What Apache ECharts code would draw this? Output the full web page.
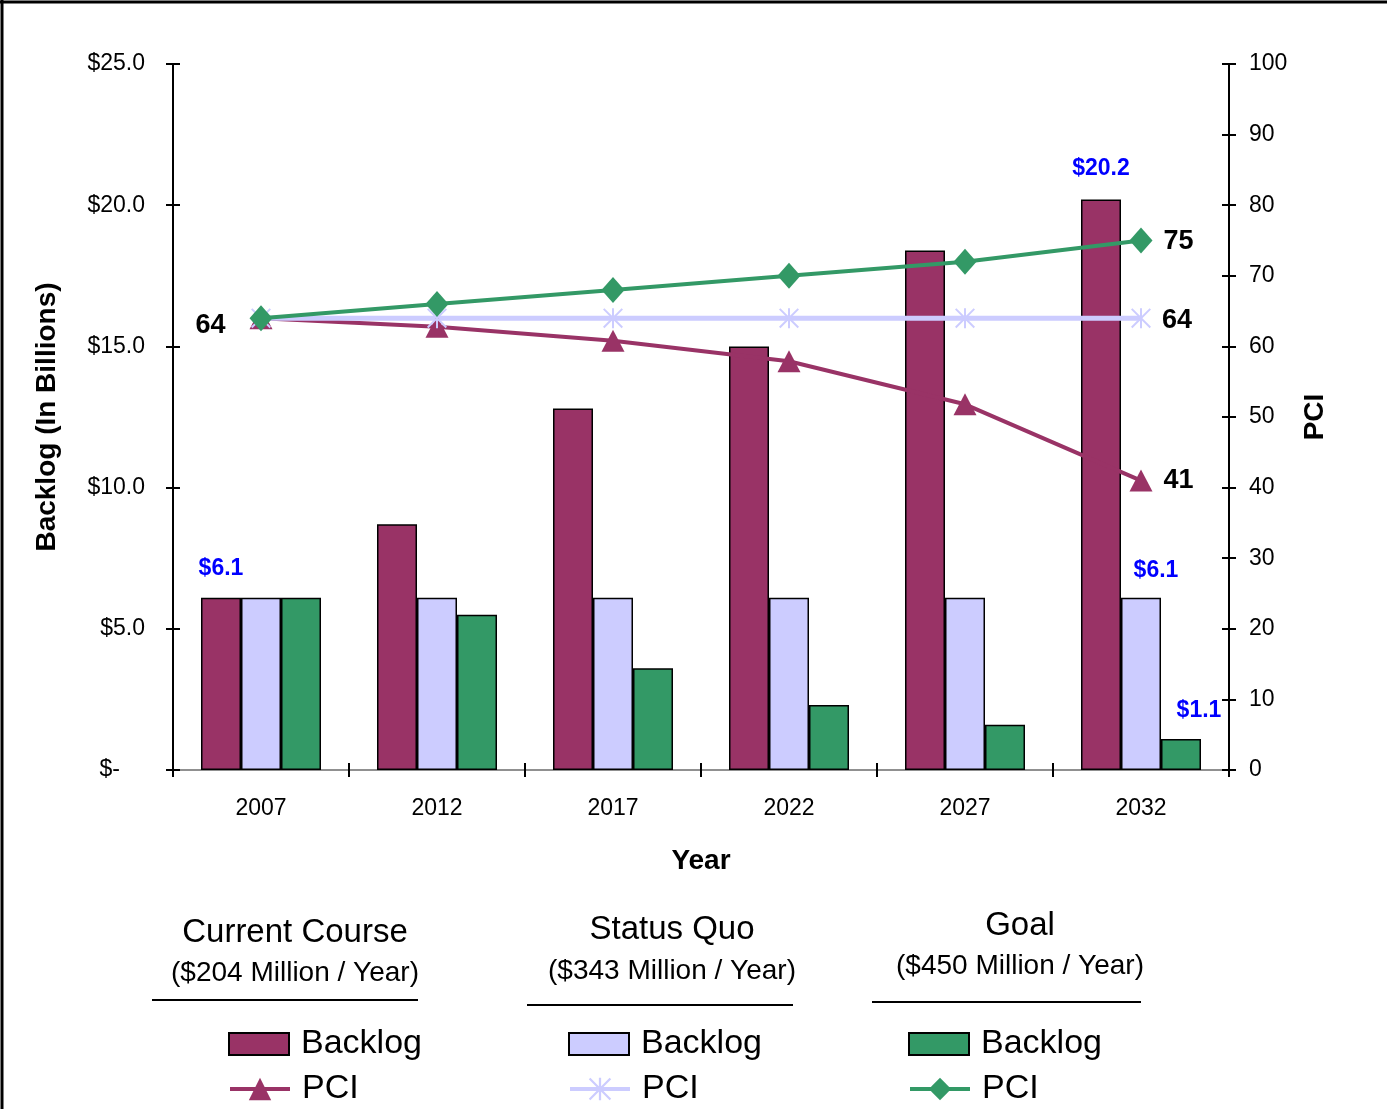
<!DOCTYPE html>
<html>
<head>
<meta charset="utf-8">
<script src="https://cdn.jsdelivr.net/npm/echarts@6/dist/echarts.min.js"></script>
<style>
html,body{margin:0;padding:0;background:#fff;}
#chart{width:1387px;height:1109px;}
</style>
</head>
<body>
<div id="chart"></div>
<script>
// ---- data ----
const years = ['2007', '2012', '2017', '2022', '2027', '2032'];
const backlogCurrent = [6.1, 8.7, 12.8, 15.0, 18.4, 20.2];
const backlogStatusQuo = [6.1, 6.1, 6.1, 6.1, 6.1, 6.1];
const backlogGoal = [6.1, 5.5, 3.6, 2.3, 1.6, 1.1];
const pciCurrent = [64, 62.8, 60.8, 57.9, 51.8, 41];
const pciStatusQuo = [64, 64, 64, 64, 64, 64];
const pciGoal = [64, 66, 68, 70, 72, 75];
const groupTitles = ['Current Course', 'Status Quo', 'Goal'];
const groupSubtitles = ['($204 Million / Year)', '($343 Million / Year)', '($450 Million / Year)'];

const FONT = '"Liberation Sans", Arial, sans-serif';
const MAROON = '#993366', LAVENDER = '#CCCCFF', GREEN = '#339966';
const ASTERISK = 'path://M9,0 L11,0 L11,20 L9,20 Z M1.4,0 L20,18.6 L18.6,20 L0,1.4 Z M18.6,0 L20,1.4 L1.4,20 L0,18.6 Z';

const chart = echarts.init(document.getElementById('chart'), null, {renderer: 'canvas'});

function blueLabelItem(v, dist, dx) {
  return {
    value: v,
    label: {show: true, position: 'top', distance: dist, offset: [dx, 0],
      formatter: '$' + v.toFixed(1), color: '#0000FF', fontWeight: 'bold', fontSize: 23, fontFamily: FONT}
  };
}
function pciLabelItem(v, pos, dist, dy) {
  return {
    value: v,
    label: {show: true, position: pos, distance: dist, offset: [0, dy],
      formatter: String(Math.round(v)), color: '#000', fontWeight: 'bold', fontSize: 27, fontFamily: FONT}
  };
}

const ccBars = backlogCurrent.slice();
ccBars[0] = blueLabelItem(backlogCurrent[0], 18, 0);
ccBars[5] = blueLabelItem(backlogCurrent[5], 19, 0);
const sqBars = backlogStatusQuo.slice();
sqBars[5] = blueLabelItem(backlogStatusQuo[5], 16, 15);
const glBars = backlogGoal.slice();
glBars[5] = blueLabelItem(backlogGoal[5], 17, 18);

const ccPci = pciCurrent.slice();
ccPci[0] = pciLabelItem(pciCurrent[0], 'left', 24, 7);
ccPci[5] = pciLabelItem(pciCurrent[5], 'right', 11, 0);
const sqPci = pciStatusQuo.slice();
sqPci[5] = pciLabelItem(pciStatusQuo[5], 'right', 11, 2);
const glPci = pciGoal.slice();
glPci[5] = pciLabelItem(pciGoal[5], 'right', 11, 1);

const barCommon = {type: 'bar', barWidth: 40, barGap: '0%', xAxisIndex: 0, yAxisIndex: 0,
  emphasis: {disabled: true}, z: 2};
const lineCommon = {type: 'line', xAxisIndex: 0, yAxisIndex: 1, emphasis: {disabled: true}, z: 3};

const legendText = {fontSize: 34, fontFamily: FONT, color: '#000', lineHeight: 40, padding: [0, 0, 0, 7]};
function mkLegend(name, left, top, h, icon) {
  const item = icon ? {name: name, icon: icon} : {name: name};
  return {orient: 'vertical', left: left, top: top, itemWidth: 60, itemHeight: h, selectedMode: false,
    padding: 0, data: [item], formatter: n => n.split('|')[0], textStyle: legendText,
    lineStyle: {width: 4}};
}
const legendX = [228, 568, 908];

const graphics = [
  {type: 'line', shape: {x1: 0, y1: 2, x2: 1387, y2: 2}, style: {stroke: '#000', lineWidth: 3}},
  {type: 'line', shape: {x1: 2, y1: 0, x2: 2, y2: 1109}, style: {stroke: '#000', lineWidth: 3}}
];
const titleCx = [295, 672, 1020];
const titleY = [933, 930, 926];
const subY = [973, 971, 966];
const ulines = [[152, 418, 1000], [527, 793, 1005], [872, 1141, 1002]];
for (let i = 0; i < 3; i++) {
  graphics.push({type: 'text', x: titleCx[i], y: titleY[i], style: {text: groupTitles[i], fontSize: 33, fontFamily: FONT, fill: '#000', align: 'center', verticalAlign: 'middle'}});
  graphics.push({type: 'text', x: titleCx[i], y: subY[i], style: {text: groupSubtitles[i], fontSize: 28, fontFamily: FONT, fill: '#000', align: 'center', verticalAlign: 'middle'}});
  graphics.push({type: 'line', shape: {x1: ulines[i][0], y1: ulines[i][2], x2: ulines[i][1], y2: ulines[i][2]}, style: {stroke: '#000', lineWidth: 2}});
}

const option = {
  backgroundColor: '#fff',
  animation: false,
  grid: {left: 173, right: 158, top: 64, bottom: 339},
  legend: [
    mkLegend('Backlog|cc', legendX[0], 1024, 22, 'rect'),
    mkLegend('PCI|cc', legendX[0], 1069, 28),
    mkLegend('Backlog|sq', legendX[1], 1024, 22, 'rect'),
    mkLegend('PCI|sq', legendX[1], 1069, 28),
    mkLegend('Backlog|gl', legendX[2], 1024, 22, 'rect'),
    mkLegend('PCI|gl', legendX[2], 1069, 28)
  ],
  xAxis: [
    {type: 'category', data: years, position: 'bottom',
      name: 'Year', nameLocation: 'middle', nameGap: 77,
      nameTextStyle: {fontSize: 28, fontWeight: 'bold', fontFamily: FONT, color: '#000'},
      axisLine: {lineStyle: {color: '#000', width: 2}},
      axisTick: {show: true, alignWithLabel: false, length: 7, lineStyle: {color: '#000', width: 2}},
      axisLabel: {fontSize: 23, fontFamily: FONT, color: '#000', margin: 27},
      splitLine: {show: false}},
    {type: 'category', data: years, position: 'top',
      axisLine: {lineStyle: {color: '#909090', width: 2}}, axisTick: {show: false}, axisLabel: {show: false}},
    {type: 'category', data: years, position: 'bottom',
      axisLine: {show: false},
      axisTick: {show: true, inside: true, length: 7, lineStyle: {color: '#000', width: 2}},
      axisLabel: {show: false}}
  ],
  yAxis: [
    {type: 'value', min: 0, max: 25, interval: 5, position: 'left',
      name: 'Backlog (In Billions)', nameLocation: 'middle', nameGap: 112, nameRotate: 90,
      nameTextStyle: {fontSize: 28, fontWeight: 'bold', fontFamily: FONT, color: '#000'},
      axisLine: {show: true, lineStyle: {color: '#000', width: 2}},
      axisTick: {show: true, length: 7, lineStyle: {color: '#000', width: 2}},
      axisLabel: {fontSize: 23, fontFamily: FONT, color: '#000', margin: 28,
        formatter: v => v === 0 ? '{z|$-}' : '$' + v.toFixed(1),
        rich: {z: {fontSize: 23, fontFamily: FONT, color: '#000', padding: [0, 25, 0, 0]}}},
      splitLine: {show: false}},
    {type: 'value', min: 0, max: 100, interval: 10, position: 'right',
      name: 'PCI', nameLocation: 'middle', nameGap: 72, nameRotate: 90,
      nameTextStyle: {fontSize: 28, fontWeight: 'bold', fontFamily: FONT, color: '#000'},
      axisLine: {show: true, lineStyle: {color: '#000', width: 2}},
      axisTick: {show: true, length: 7, lineStyle: {color: '#000', width: 2}},
      axisLabel: {fontSize: 23, fontFamily: FONT, color: '#000', margin: 20},
      splitLine: {show: false}},
    {type: 'value', min: 0, max: 25, interval: 5, position: 'left',
      axisLine: {show: false}, axisLabel: {show: false}, splitLine: {show: false},
      axisTick: {show: true, inside: true, length: 7, lineStyle: {color: '#000', width: 2}}},
    {type: 'value', min: 0, max: 100, interval: 10, position: 'right',
      axisLine: {show: false}, axisLabel: {show: false}, splitLine: {show: false},
      axisTick: {show: true, inside: true, length: 7, lineStyle: {color: '#000', width: 2}}}
  ],
  series: [
    Object.assign({}, barCommon, {name: 'Backlog|cc', itemStyle: {color: MAROON, borderColor: '#000', borderWidth: 1.5}, data: ccBars}),
    Object.assign({}, barCommon, {name: 'Backlog|sq', itemStyle: {color: LAVENDER, borderColor: '#000', borderWidth: 1.5}, data: sqBars}),
    Object.assign({}, barCommon, {name: 'Backlog|gl', itemStyle: {color: GREEN, borderColor: '#000', borderWidth: 1.5}, data: glBars}),
    Object.assign({}, lineCommon, {name: 'PCI|cc', symbol: 'triangle', symbolSize: [23, 22],
      lineStyle: {color: MAROON, width: 4}, itemStyle: {color: MAROON}, data: ccPci}),
    Object.assign({}, lineCommon, {name: 'PCI|sq', symbol: ASTERISK, symbolSize: [20, 20],
      lineStyle: {color: LAVENDER, width: 5}, itemStyle: {color: LAVENDER}, data: sqPci}),
    Object.assign({}, lineCommon, {name: 'PCI|gl', symbol: 'diamond', symbolSize: [23, 26],
      lineStyle: {color: GREEN, width: 4}, itemStyle: {color: GREEN}, data: glPci})
  ],
  graphic: graphics
};
chart.setOption(option);
</script>
</body>
</html>
